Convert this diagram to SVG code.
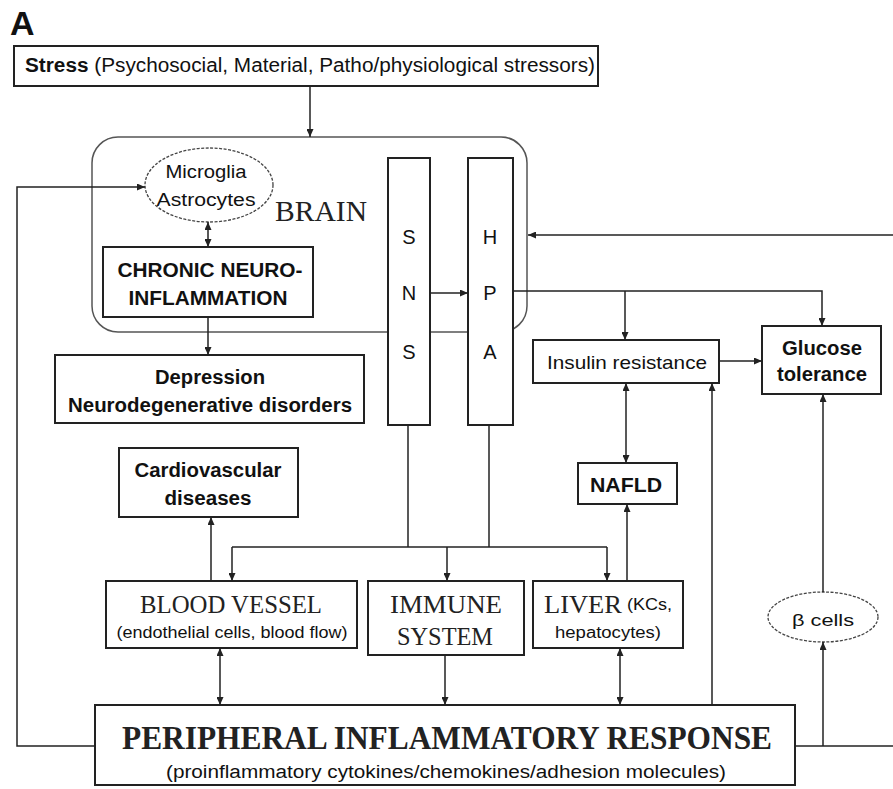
<svg xmlns="http://www.w3.org/2000/svg" width="893" height="789" viewBox="0 0 893 789">
<style>
.bx{fill:#fff;stroke:#222;stroke-width:2}
.el{fill:#fff;stroke:#444;stroke-width:1.3;stroke-dasharray:3 1.5}
.ln{fill:none;stroke:#222;stroke-width:1.5}
.s{font-family:"Liberation Sans",Arial,sans-serif;fill:#111;text-anchor:middle;dominant-baseline:central}
.b{font-weight:bold}
.r{font-family:"Liberation Serif","Times New Roman",serif;fill:#222;text-anchor:middle;dominant-baseline:central}
</style>
<defs>
<marker id="ah" viewBox="0 0 8 7" refX="8" refY="3.5" markerWidth="8" markerHeight="7" markerUnits="userSpaceOnUse" orient="auto-start-reverse">
<path d="M0,0 L8,3.5 L0,7 z" fill="#222"/>
</marker>
</defs>
<rect width="893" height="789" fill="#fff"/>
<text x="10" y="35" font-family="Liberation Sans,Arial,sans-serif" font-weight="bold" font-size="34" fill="#111">A</text>

<g id="stress">
<rect class="bx" x="14" y="46" width="584" height="40"/>
<text class="s" x="310" y="65" font-size="20" textLength="570" lengthAdjust="spacingAndGlyphs"><tspan font-weight="bold">Stress</tspan> (Psychosocial, Material, Patho/physiological stressors)</text>
</g>

<g id="brain">
<rect x="92" y="137" width="435" height="195" rx="26" fill="none" stroke="#555" stroke-width="1.5"/>
<text class="r" x="321" y="211" font-size="29" fill="#444" textLength="92" lengthAdjust="spacingAndGlyphs">BRAIN</text>
</g>

<g id="glia">
<ellipse class="el" cx="209" cy="185" rx="64" ry="37"/>
<text class="s" x="206" y="172" font-size="18" textLength="81" lengthAdjust="spacingAndGlyphs">Microglia</text>
<text class="s" x="206" y="200" font-size="18" textLength="99" lengthAdjust="spacingAndGlyphs">Astrocytes</text>
</g>

<g id="chronic">
<rect class="bx" x="103" y="247" width="210" height="70"/>
<text class="s b" x="210" y="270" font-size="20" textLength="185" lengthAdjust="spacingAndGlyphs">CHRONIC NEURO-</text>
<text class="s b" x="208" y="298" font-size="20" textLength="159" lengthAdjust="spacingAndGlyphs">INFLAMMATION</text>
</g>

<g id="sns">
<rect class="bx" x="388" y="158" width="42" height="267"/>
<text class="s" x="409" y="237" font-size="20">S</text>
<text class="s" x="409" y="293" font-size="20">N</text>
<text class="s" x="409" y="352" font-size="20">S</text>
</g>

<g id="hpa">
<rect class="bx" x="468" y="158" width="45" height="267"/>
<text class="s" x="490" y="237" font-size="20">H</text>
<text class="s" x="490" y="293" font-size="20">P</text>
<text class="s" x="490" y="352" font-size="20">A</text>
</g>

<g id="depression">
<rect class="bx" x="55" y="355" width="309" height="68"/>
<text class="s b" x="210" y="377" font-size="20" textLength="110" lengthAdjust="spacingAndGlyphs">Depression</text>
<text class="s b" x="210" y="405" font-size="20" textLength="284" lengthAdjust="spacingAndGlyphs">Neurodegenerative disorders</text>
</g>

<g id="insulin">
<rect class="bx" x="533" y="340" width="186" height="43"/>
<text class="s" x="627" y="362" font-size="19" textLength="160" lengthAdjust="spacingAndGlyphs">Insulin resistance</text>
</g>

<g id="glucose">
<rect class="bx" x="762" y="326" width="119" height="68"/>
<text class="s b" x="822" y="348" font-size="20" textLength="80" lengthAdjust="spacingAndGlyphs">Glucose</text>
<text class="s b" x="822" y="374" font-size="20" textLength="90" lengthAdjust="spacingAndGlyphs">tolerance</text>
</g>

<g id="cardio">
<rect class="bx" x="119" y="448" width="179" height="69"/>
<text class="s b" x="208" y="470" font-size="20" textLength="147" lengthAdjust="spacingAndGlyphs">Cardiovascular</text>
<text class="s b" x="208" y="498" font-size="20" textLength="87" lengthAdjust="spacingAndGlyphs">diseases</text>
</g>

<g id="nafld">
<rect class="bx" x="578" y="463" width="99" height="41"/>
<text class="s b" x="626" y="485" font-size="20" textLength="72" lengthAdjust="spacingAndGlyphs">NAFLD</text>
</g>

<g id="bloodvessel">
<rect class="bx" x="106" y="581" width="251" height="67"/>
<text class="r" x="231" y="604" font-size="25" textLength="182" lengthAdjust="spacingAndGlyphs">BLOOD VESSEL</text>
<text class="s" x="232" y="632" font-size="16" textLength="231" lengthAdjust="spacingAndGlyphs">(endothelial cells, blood flow)</text>
</g>

<g id="immune">
<rect class="bx" x="368" y="581" width="156" height="74"/>
<text class="r" x="446" y="604" font-size="25" textLength="112" lengthAdjust="spacingAndGlyphs">IMMUNE</text>
<text class="r" x="445" y="636" font-size="25" textLength="96" lengthAdjust="spacingAndGlyphs">SYSTEM</text>
</g>

<g id="liver">
<rect class="bx" x="533" y="581" width="150" height="67"/>
<text class="s" x="608" y="604" font-size="25" textLength="128" lengthAdjust="spacingAndGlyphs"><tspan font-family="Liberation Serif,Times New Roman,serif" fill="#222">LIVER</tspan><tspan font-size="17"> (KCs,</tspan></text>
<text class="s" x="608" y="632" font-size="16" textLength="106" lengthAdjust="spacingAndGlyphs">hepatocytes)</text>
</g>

<g id="beta">
<ellipse class="el" cx="823" cy="617" rx="55" ry="25"/>
<text class="s" x="823" y="620" font-size="17" textLength="62" lengthAdjust="spacingAndGlyphs">β  cells</text>
</g>

<g id="peripheral">
<rect class="bx" x="95" y="705" width="700" height="80"/>
<text class="r" x="447" y="737" font-size="34" font-weight="bold" textLength="650" lengthAdjust="spacingAndGlyphs">PERIPHERAL INFLAMMATORY RESPONSE</text>
<text class="s" x="446" y="772" font-size="18" textLength="560" lengthAdjust="spacingAndGlyphs">(proinflammatory cytokines/chemokines/adhesion molecules)</text>
</g>

<g id="connectors">
<path class="ln" d="M310,86 V137" marker-end="url(#ah)"/>
<path class="ln" d="M95,746 H17 V187 H145" marker-end="url(#ah)"/>
<path class="ln" d="M208,222 V247" marker-start="url(#ah)" marker-end="url(#ah)"/>
<path class="ln" d="M208,317 V355" marker-end="url(#ah)"/>
<path class="ln" d="M430,293 H468" marker-end="url(#ah)"/>
<path class="ln" d="M893,235 H528" marker-end="url(#ah)"/>
<path class="ln" d="M513,291 H822 V326" marker-end="url(#ah)"/>
<path class="ln" d="M625,291 V340" marker-end="url(#ah)"/>
<path class="ln" d="M719,361 H762" marker-end="url(#ah)"/>
<path class="ln" d="M626,383 V463" marker-start="url(#ah)" marker-end="url(#ah)"/>
<path class="ln" d="M627,581 V504" marker-end="url(#ah)"/>
<path class="ln" d="M712,705 V383" marker-end="url(#ah)"/>
<path class="ln" d="M823,592 V394" marker-end="url(#ah)"/>
<path class="ln" d="M795,746 H893"/>
<path class="ln" d="M823,746 V642" marker-end="url(#ah)"/>
<path class="ln" d="M408,425 V547"/>
<path class="ln" d="M489,425 V547"/>
<path class="ln" d="M232,547 H607"/>
<path class="ln" d="M232,547 V581" marker-end="url(#ah)"/>
<path class="ln" d="M447,547 V581" marker-end="url(#ah)"/>
<path class="ln" d="M607,547 V581" marker-end="url(#ah)"/>
<path class="ln" d="M211,581 V517" marker-end="url(#ah)"/>
<path class="ln" d="M220,648 V705" marker-start="url(#ah)" marker-end="url(#ah)"/>
<path class="ln" d="M445,655 V705" marker-end="url(#ah)"/>
<path class="ln" d="M620,648 V705" marker-start="url(#ah)" marker-end="url(#ah)"/>
</g>
</svg>
